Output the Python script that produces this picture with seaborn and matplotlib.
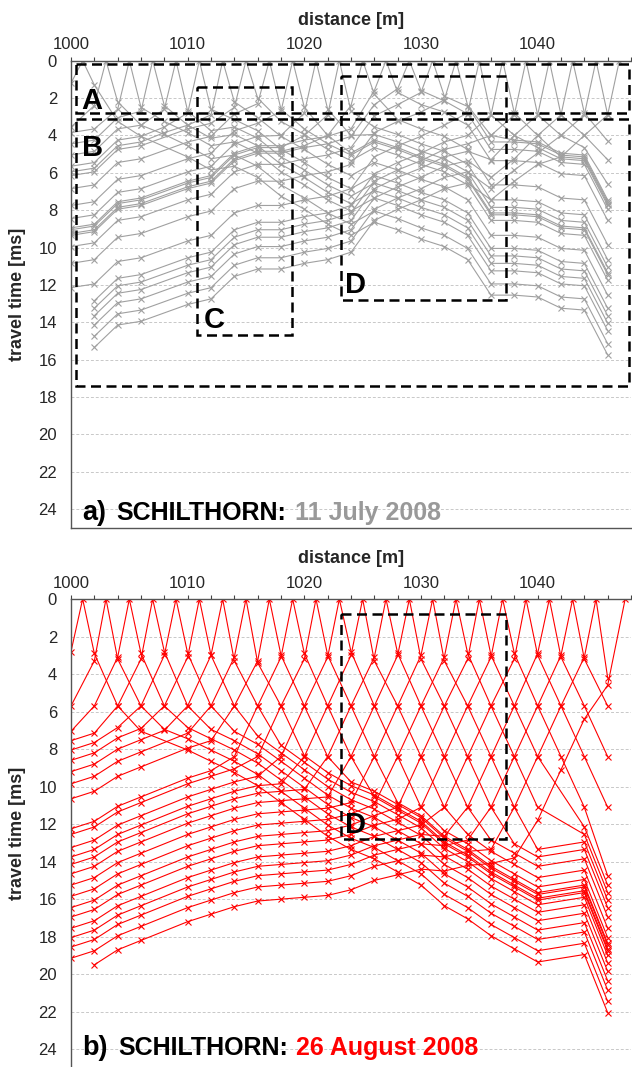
import matplotlib
matplotlib.use("Agg")
import matplotlib.pyplot as plt
import seaborn as sns
import pandas as pd
from matplotlib.patches import Rectangle
from matplotlib.ticker import MultipleLocator

# ---------------- data ----------------
GEOPHONES = [1000, 1002, 1004, 1006, 1008, 1010, 1012, 1014, 1016, 1018, 1020, 1022,
             1024, 1026, 1028, 1030, 1032, 1034, 1036, 1038, 1040, 1042, 1044, 1046]
N = None

# 11 July 2008 (grey) - one list per shot, values at GEOPHONES [ms]
jul_1001 = [1.2, 1.3, 3.25, 4.05, N, 5.15, 5.85, 5.65, 6.25, 7.25, 7.95, 8.75, 9.35, 8.65, 9.05, 9.55, 9.95, 10.65, 12.55, 12.55, 12.65, 13.25, 13.35, 15.75]
jul_1003 = [3.55, 2.4, 2.2, 3.45, 3.95, 4.55, 5.25, 5.05, 5.65, 6.65, 7.35, 8.15, 8.75, 8.05, 8.45, 8.95, 9.35, 10.05, 11.95, 11.95, 12.05, 12.65, 12.75, 15.15]
jul_1005 = [3.85, 3.65, 2.6, 2.5, 3.25, 3.85, 4.55, 4.35, 4.95, 5.95, 6.65, 7.45, 8.05, 7.35, 7.75, 8.25, 8.65, 9.35, 11.25, 11.25, 11.35, 11.95, 12.05, 14.45]
jul_1007 = [4.45, 4.25, 3.05, 2.7, 2.4, 3.45, 4.15, 3.95, 4.55, 5.55, 6.25, 7.05, 7.65, 6.95, 7.35, 7.85, 8.25, 8.95, 10.85, 10.85, 10.95, 11.55, 11.65, 14.05]
jul_1009 = [5.05, 4.85, 3.65, 3.45, 2.6, 2.7, 3.75, 3.55, 4.15, 5.15, 5.85, 6.65, 7.25, 6.55, 6.95, 7.45, 7.85, 8.55, 10.45, 10.45, 10.55, 11.15, 11.25, 13.65]
jul_1011 = [5.65, 5.45, 4.25, 4.05, 3.55, 2.8, 2.6, 3.15, 3.75, 4.75, 5.45, 6.25, 6.85, 6.15, 6.55, 7.05, 7.45, 8.15, 10.05, 10.05, 10.15, 10.75, 10.85, 13.25]
jul_1013 = [5.95, 5.75, 4.55, 4.35, 3.85, 3.45, 2.9, 2.2, 3.05, 4.05, 4.75, 5.55, 6.15, 5.45, 5.85, 6.35, 6.75, 7.45, 9.35, 9.35, 9.45, 10.05, 10.15, 12.55]
jul_1015 = [6.15, 5.95, 4.75, 4.55, N, 3.65, 3.35, 2.5, 2.0, 3.25, 3.95, 4.75, 5.35, 4.65, 5.05, 5.55, 5.95, 6.65, 8.55, 8.55, 8.65, 9.25, 9.35, 11.75]
jul_1017 = [6.85, 6.65, 5.45, 5.25, N, 4.35, 4.05, 2.85, 2.3, 2.6, 3.65, 4.45, 5.05, 4.35, 4.75, 5.25, 5.65, 6.35, 8.25, 8.25, 8.35, 8.95, 9.05, 11.45]
jul_1019 = [7.75, 7.55, 6.35, 6.15, N, 5.25, 4.95, 3.75, 3.35, 2.7, 2.5, 4.0, 4.95, 4.25, 4.65, 5.15, 5.55, 6.25, 8.15, 8.15, 8.25, 8.85, 8.95, 11.35]
jul_1021 = [8.45, 8.25, 7.05, 6.85, N, 5.95, 5.65, 4.45, 4.05, 4.0, 2.8, 2.6, 4.0, 3.95, 4.35, 4.85, 5.25, 5.95, 7.85, 7.85, 7.95, 8.55, 8.65, 11.05]
jul_1023 = [9.05, 8.85, 7.65, 7.45, N, 6.55, 6.25, 5.05, 4.65, 4.65, 4.0, 2.9, 2.7, 3.55, 3.95, 4.45, 4.85, 5.55, 7.45, 7.45, 7.55, 8.15, 8.25, 10.65]
jul_1025 = [9.25, 9.05, 7.85, 7.65, N, 6.75, 6.45, 5.25, 4.85, 4.85, 4.55, 4.0, 2.4, 1.8, 3.15, 3.65, 4.05, 4.75, 6.65, 6.65, 6.75, 7.35, 7.45, 9.85]
jul_1027 = [8.95, 8.75, 7.55, 7.35, N, 6.45, 6.15, 4.95, 4.55, 4.55, 4.25, 4.05, 3.65, 1.6, 1.7, 2.35, 2.75, 3.45, 5.35, 5.35, 5.45, 6.05, 6.15, 8.55]
jul_1029 = [9.35, 9.15, 7.95, 7.75, N, 6.85, 6.55, 5.35, 4.95, 4.95, 4.65, 4.45, 4.05, 2.35, 1.5, 1.6, 2.15, 2.85, 4.75, 4.75, 4.85, 5.45, 5.55, 7.95]
jul_1031 = [9.95, 9.75, 8.55, 8.35, N, 7.45, 7.15, 5.95, 5.55, 5.55, 5.25, 5.05, 4.65, 2.95, 2.35, 1.7, 1.9, 2.45, 4.35, 4.35, 4.45, 5.05, 5.15, 7.55]
jul_1033 = [10.85, 10.65, 9.45, 9.25, N, 8.35, 8.05, 6.85, 6.45, 6.45, 6.15, 5.95, 5.55, 3.85, 3.25, 2.75, 2.1, 2.4, 4.0, 4.25, 4.35, 4.95, 5.05, 7.45]
jul_1035 = [12.15, 11.95, 10.75, 10.55, N, 9.65, 9.35, 8.15, 7.75, 7.75, 7.45, 7.25, 6.85, 5.15, 4.55, 4.05, 3.45, 2.8, 2.9, 4.0, 4.65, 5.25, 5.35, 7.75]
jul_1037 = [N, 12.85, 11.65, 11.45, N, 10.55, 10.25, 9.05, 8.65, 8.65, 8.35, 8.15, 7.75, 6.05, 5.45, 4.95, 4.35, 4.0, 2.9, 2.8, 4.0, 5.15, 5.25, 7.65]
jul_1039 = [N, 13.25, 12.05, 11.85, N, 10.95, 10.65, 9.45, 9.05, 9.05, 8.75, 8.55, 8.15, 6.45, 5.85, 5.35, 4.75, 4.45, 4.0, 2.9, 2.9, 4.0, 4.65, 6.6]
jul_1041 = [N, 13.65, 12.45, 12.25, N, 11.35, 11.05, 9.85, 9.45, 9.45, 9.15, 8.95, 8.55, 6.85, 6.25, 5.75, 5.15, 4.85, 5.3, 4.0, 2.9, 2.9, 4.0, 5.3]
jul_1043 = [N, 14.15, 12.95, 12.75, N, 11.85, 11.55, 10.35, 9.95, 9.95, 9.65, 9.45, 9.05, 7.35, 6.75, 6.25, 5.65, 5.35, 6.25, 5.25, 4.0, 2.9, 2.8, 4.3]
jul_1045 = [N, 14.75, 13.55, 13.35, N, 12.45, 12.15, 10.95, 10.55, 10.55, 10.25, 10.05, 9.65, 7.95, 7.35, 6.85, 6.25, 5.95, 6.85, 5.85, 4.95, 4.0, 2.9, 2.9]
jul_1047 = [N, 15.35, 14.15, 13.95, N, 13.05, 12.75, 11.55, 11.15, 11.15, 10.85, 10.65, 10.25, 8.55, 7.95, 7.45, 6.85, 6.55, 7.45, 6.45, 5.55, 5.15, 4.0, 2.9]

# 26 August 2008 (red)
aug_1001 = [2.8, 2.9, 5.7, 7.05, N, 8.05, 8.65, 9.25, 9.95, 10.85, 11.75, 12.65, 13.35, 13.85, 14.55, 15.25, 16.35, 17.05, 17.95, 18.65, 19.35, N, 18.95, 22.05]
aug_1003 = [5.7, 3.3, 3.2, 5.7, 6.95, 7.45, 8.05, 8.65, 9.35, 10.25, 11.15, 12.05, 12.75, 13.25, 13.95, 14.65, 15.75, 16.45, 17.35, 18.05, 18.75, N, 18.35, 21.45]
aug_1005 = [7.05, 5.7, 3.1, 2.9, 5.7, 6.85, 7.45, 8.05, 8.75, 9.65, 10.55, 11.45, 12.15, 12.65, 13.35, 14.05, 15.15, 15.85, 16.75, 17.45, 18.15, N, 17.75, 20.85]
aug_1007 = [7.55, 7.15, 5.7, 3.2, 2.8, 5.7, 6.95, 7.55, 8.25, 9.15, 10.05, 10.95, 11.65, 12.15, 12.85, 13.55, 14.65, 15.35, 16.25, 16.95, 17.65, N, 17.25, 20.35]
aug_1009 = [8.05, 7.65, 6.85, 5.7, 3.0, 2.9, 5.7, 7.05, 7.75, 8.65, 9.55, 10.45, 11.15, 11.65, 12.35, 13.05, 14.15, 14.85, 15.75, 16.45, 17.15, N, 16.75, 19.85]
aug_1011 = [8.6, 8.2, 7.4, 6.9, 5.7, 3.1, 3.0, 5.7, 7.3, 8.2, 9.1, 10.0, 10.7, 11.2, 11.9, 12.6, 13.7, 14.4, 15.3, 16.0, 16.7, N, 16.3, 19.4]
aug_1013 = [9.2, 8.8, 8.0, 7.5, 7.0, 5.7, 3.0, 3.3, 5.7, 7.8, 8.7, 9.6, 10.3, 10.8, 11.5, 12.2, 13.3, 14.0, 14.9, 15.6, 16.3, N, 15.9, 19.0]
aug_1015 = [9.85, 9.45, 8.65, 8.15, N, 7.15, 5.7, 3.1, 3.4, 5.7, 8.35, 9.25, 9.95, 10.45, 11.15, 11.85, 12.95, 13.65, 14.55, 15.25, 15.95, N, 15.55, 18.65]
aug_1017 = [10.65, 10.25, 9.45, 8.95, N, 7.95, 7.55, 5.7, 3.3, 3.0, 5.7, 8.4, 9.75, 10.25, 10.95, 11.65, 12.75, 13.45, 14.35, 15.05, 15.75, N, 15.35, 18.45]
aug_1019 = [12.25, 11.85, 11.05, 10.55, N, 9.55, 9.15, 8.4, 5.7, 3.1, 2.9, 5.7, 8.4, 10.55, 11.25, 11.95, 13.05, 13.75, 14.65, 15.35, 16.05, N, 15.65, 18.75]
aug_1021 = [12.55, 12.15, 11.35, 10.85, N, 9.85, 9.45, 9.05, 8.4, 5.7, 3.2, 3.0, 5.7, 8.4, 10.85, 11.55, 12.65, 13.35, 14.25, 14.95, 15.65, N, 15.25, 18.35]
aug_1023 = [13.25, 12.85, 12.05, 11.55, N, 10.55, 10.15, 9.75, 9.45, 8.4, 5.7, 3.1, 2.8, 5.7, 8.4, 11.1, 12.35, 13.05, 13.95, 14.65, 15.35, N, 14.95, 18.05]
aug_1025 = [13.75, 13.35, 12.55, 12.05, N, 11.05, 10.65, 10.25, 9.95, 9.85, 8.4, 5.7, 3.0, 3.3, 5.7, 8.4, 11.1, 12.55, 13.45, 14.15, 14.85, N, 14.45, 17.55]
aug_1027 = [14.15, 13.75, 12.95, 12.45, N, 11.45, 11.05, 10.65, 10.35, 10.25, 10.15, 8.4, 5.7, 3.1, 2.9, 5.7, 8.4, 11.1, 12.85, 13.55, 14.25, N, 13.85, 16.95]
aug_1029 = [14.65, 14.25, 13.45, 12.95, N, 11.95, 11.55, 11.15, 10.85, 10.75, 10.65, 10.55, 8.4, 5.7, 3.0, 3.2, 5.7, 8.4, 11.1, 13.05, 13.75, N, 13.35, 16.45]
aug_1031 = [15.25, 14.85, 14.05, 13.55, N, 12.55, 12.15, 11.75, 11.45, 11.35, 11.25, 11.15, 10.85, 8.4, 5.7, 3.0, 3.3, 5.7, 8.4, 11.1, 13.35, N, 12.95, 16.05]
aug_1033 = [15.85, 15.45, 14.65, 14.15, N, 13.15, 12.75, 12.35, 12.05, 11.95, 11.85, 11.75, 11.45, 10.95, 8.4, 5.7, 3.1, 2.9, 5.7, 8.4, 11.1, N, 12.55, 15.65]
aug_1035 = [16.45, 16.05, 15.25, 14.75, N, 13.75, 13.35, 12.95, 12.65, 12.55, 12.45, 12.35, 12.05, 11.55, 11.1, 8.4, 5.7, 3.2, 3.0, 5.7, 8.4, N, 12.15, 15.25]
aug_1037 = [16.95, 16.55, 15.75, 15.25, N, 14.25, 13.85, 13.45, 13.15, 13.05, 12.95, 12.85, 12.55, 12.05, 11.75, 11.1, 8.4, 5.7, 3.1, 2.9, 5.7, 8.4, 11.1, 14.75]
aug_1039 = [17.55, 17.15, 16.35, 15.85, N, 14.85, 14.45, 14.05, 13.75, 13.65, 13.55, 13.45, 13.15, 12.65, 12.35, 12.05, 11.1, 8.4, 5.7, 3.2, 3.0, 5.7, 8.4, 11.1]
aug_1041 = [18.05, 17.65, 16.85, 16.35, N, 15.35, 14.95, 14.55, 14.25, 14.15, 14.05, 13.95, 13.65, 13.15, 12.85, 12.55, 12.65, 11.1, 8.4, 5.7, 2.9, 3.1, 5.7, 8.4]
aug_1043 = [18.55, 18.15, 17.35, 16.85, N, 15.85, 15.45, 15.05, 14.75, 14.65, 14.55, 14.45, 14.15, 13.65, 13.35, 13.05, 13.15, 12.85, 11.1, 8.4, 5.7, 3.0, 3.2, 5.7]
aug_1045 = [19.15, 18.75, 17.95, 17.45, N, 16.45, 16.05, 15.65, 15.35, 15.25, 15.15, 15.05, 14.75, 14.25, 13.95, 13.65, 13.75, 13.45, 13.35, 11.1, 8.4, 5.7, 3.1, 4.2]
aug_1047 = [N, 19.5, 18.7, 18.2, N, 17.2, 16.8, 16.4, 16.1, 16.0, 15.9, 15.8, 15.5, 15.0, 14.7, 14.4, 14.5, 14.2, 14.1, 13.8, 11.8, 9.1, 6.4, 4.6]

JUL_SHOTS = {1001: jul_1001, 1003: jul_1003, 1005: jul_1005, 1007: jul_1007, 1009: jul_1009,
             1011: jul_1011, 1013: jul_1013, 1015: jul_1015, 1017: jul_1017, 1019: jul_1019,
             1021: jul_1021, 1023: jul_1023, 1025: jul_1025, 1027: jul_1027, 1029: jul_1029,
             1031: jul_1031, 1033: jul_1033, 1035: jul_1035, 1037: jul_1037, 1039: jul_1039,
             1041: jul_1041, 1043: jul_1043, 1045: jul_1045, 1047: jul_1047}
AUG_SHOTS = {1001: aug_1001, 1003: aug_1003, 1005: aug_1005, 1007: aug_1007, 1009: aug_1009,
             1011: aug_1011, 1013: aug_1013, 1015: aug_1015, 1017: aug_1017, 1019: aug_1019,
             1021: aug_1021, 1023: aug_1023, 1025: aug_1025, 1027: aug_1027, 1029: aug_1029,
             1031: aug_1031, 1033: aug_1033, 1035: aug_1035, 1037: aug_1037, 1039: aug_1039,
             1041: aug_1041, 1043: aug_1043, 1045: aug_1045, 1047.5: aug_1047}

# dashed boxes (x0, x1, t0, t1) and labels
JUL_BOXES = {"A": (1000.4, 1047.8, 0.2, 2.8), "B": (1000.4, 1047.8, 3.1, 17.4),
             "C": (1010.8, 1018.9, 1.4, 14.7), "D": (1023.1, 1037.3, 0.8, 12.8)}
JUL_LABELS = {"A": (1000.9, 2.6), "B": (1000.9, 5.1), "C": (1011.4, 14.3), "D": (1023.5, 12.45)}
AUG_BOXES = {"D": (1023.1, 1037.3, 0.8, 12.8)}
AUG_LABELS = {"D": (1023.5, 12.45)}

X_TICKS = [1000, 1010, 1020, 1030, 1040]
Y_TICKS = [0, 2, 4, 6, 8, 10, 12, 14, 16, 18, 20, 22, 24]


def to_long(shots):
    rows = []
    for s, vals in shots.items():
        rows.append((s, 0.0, s))
        for g, v in zip(GEOPHONES, vals):
            if v is not None:
                rows.append((g, v, s))
    return pd.DataFrame(rows, columns=["distance", "time", "shot"])


sns.set_style("white")
plt.rcParams["font.family"] = ["Liberation Sans", "DejaVu Sans"]

W, H = 632, 1067
fig = plt.figure(figsize=(W / 100, H / 100), dpi=100)
ax1 = fig.add_axes([71 / W, 1 - 527.7 / H, 560 / W, 467 / H])
ax2 = fig.add_axes([71 / W, 1 - 1068 / H, 560 / W, 469 / H])

panels = [
    (ax1, JUL_SHOTS, "#a0a0a0", JUL_BOXES, JUL_LABELS, "a)", "11 July 2008", "#999999", 24.59),
    (ax2, AUG_SHOTS, "#ff0000", AUG_BOXES, AUG_LABELS, "b)", "26 August 2008", "#ff0000", 24.3),
]

for ax, shots, col, boxes, labels, tag, date, dcol, ybase in panels:
    df = to_long(shots)
    sns.lineplot(data=df, x="distance", y="time", units="shot", estimator=None,
                 color=col, lw=0.8, marker="x", markersize=4.5, markeredgewidth=0.8,
                 markeredgecolor=col, ax=ax, legend=False, zorder=2)
    ax.set_xlim(1000, 1048)
    ax.set_ylim(25, 0)
    ax.xaxis.tick_top()
    ax.xaxis.set_label_position("top")
    ax.set_xticks(X_TICKS)
    ax.xaxis.set_minor_locator(MultipleLocator(2))
    ax.set_yticks(Y_TICKS)
    ax.tick_params(axis="x", which="both", direction="out", length=3, width=0.8,
                   color="#444444", labelsize=12, pad=3)
    ax.tick_params(axis="y", which="both", direction="out", length=3, width=0.8,
                   color="#444444", labelsize=12, pad=7)
    ax.yaxis.grid(True, linestyle=(0, (3, 2)), color="#c8c8c8", lw=0.7)
    ax.xaxis.grid(False)
    ax.set_axisbelow(True)
    for side in ["top", "left", "bottom"]:
        ax.spines[side].set_color("#555555")
        ax.spines[side].set_linewidth(1.0)
    ax.spines["right"].set_visible(False)
    ax.set_xlabel("distance [m]", fontsize=13, fontweight="bold")
    ax.xaxis.set_label_coords(0.5, 1 + 36 / (ax.get_position().height * H))
    ax.set_ylabel("")
    pos = ax.get_position()
    fig.text(18 / W, pos.y0 + pos.height / 2, "travel time [ms]", rotation=90,
             ha="center", va="center", fontsize=13, fontweight="bold")

    for key, (x0, x1, t0, t1) in boxes.items():
        ax.add_patch(Rectangle((x0, t0), x1 - x0, t1 - t0, fill=False, ec="black",
                               lw=1.8, linestyle=(0, (4, 2.2)), zorder=5, clip_on=False))
    for key, (lx, ly) in labels.items():
        ax.text(lx, ly, key, fontsize=21, fontweight="bold", color="black",
                ha="left", va="baseline", zorder=6)

fig.canvas.draw()
renderer = fig.canvas.get_renderer()
for ax, shots, col, boxes, labels, tag, date, dcol, ybase in panels:
    x = 1001.0
    pieces = [(tag, 19.5, "black", 10), ("SCHILTHORN:", 18, "black", 8), (date, 18, dcol, 0)]
    for txt, fs, c, gap in pieces:
        t = ax.text(x, ybase, txt, fontsize=fs, fontweight="bold", color=c,
                    ha="left", va="baseline", zorder=6)
        bb = t.get_window_extent(renderer)
        x = ax.transData.inverted().transform((bb.x1 + gap, 0))[0]

fig.savefig("out.png", dpi=100)
